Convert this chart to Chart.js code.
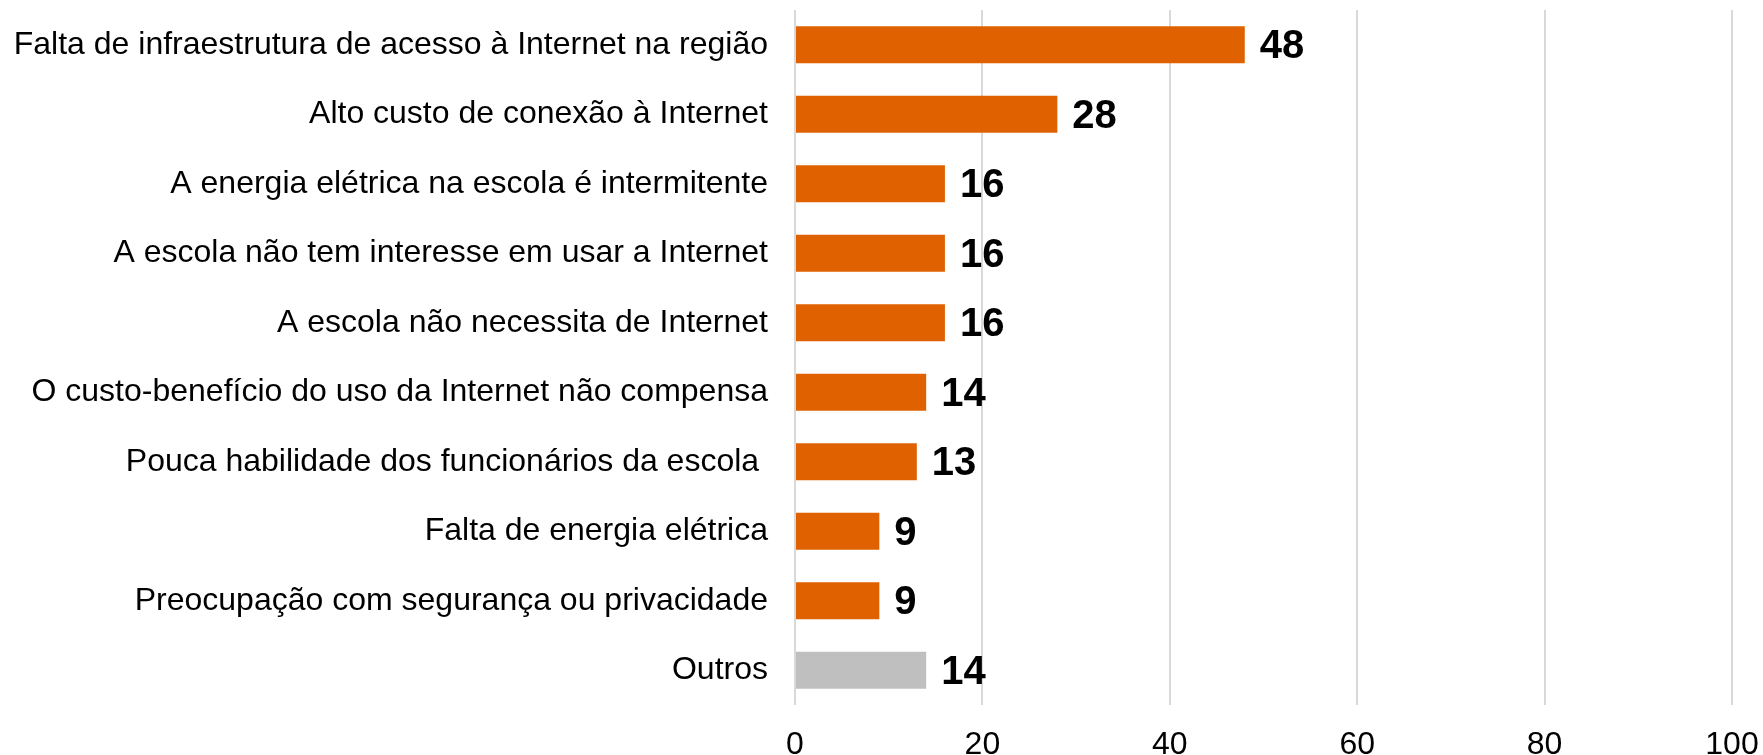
<!DOCTYPE html>
<html>
<head>
<meta charset="utf-8">
<script src="https://cdn.jsdelivr.net/npm/chart.js@4"></script>
<style>
html,body{margin:0;padding:0;background:#fff;}
canvas{display:block;}
</style>
</head>
<body>
<canvas id="c" width="1763" height="755"></canvas>
<script>
const categories = [
  "Falta de infraestrutura de acesso à Internet na região",
  "Alto custo de conexão à Internet",
  "A energia elétrica na escola é intermitente",
  "A escola não tem interesse em usar a Internet",
  "A escola não necessita de Internet",
  "O custo-benefício do uso da Internet não compensa",
  "Pouca habilidade dos funcionários da escola ",
  "Falta de energia elétrica",
  "Preocupação com segurança ou privacidade",
  "Outros"
];
const values = [48, 28, 16, 16, 16, 14, 13, 9, 9, 14];
const barColors = ["#DF6100","#DF6100","#DF6100","#DF6100","#DF6100","#DF6100","#DF6100","#DF6100","#DF6100","#BFBFBF"];
const xTicks = [0, 20, 40, 60, 80, 100];

const FONT = "'Liberation Sans', Arial, Helvetica, sans-serif";

const valueLabels = {
  id: 'valueLabels',
  afterDatasetsDraw(chart) {
    const ctx = chart.ctx;
    const meta = chart.getDatasetMeta(0);
    ctx.save();
    ctx.font = "bold 40px " + FONT;
    ctx.fillStyle = "#000";
    ctx.textAlign = "left";
    ctx.textBaseline = "alphabetic";
    meta.data.forEach((bar, i) => {
      ctx.fillText(String(values[i]), bar.x + 15, bar.y + 13.5);
    });
    ctx.restore();
  }
};

new Chart(document.getElementById('c'), {
  type: 'bar',
  data: {
    labels: categories,
    datasets: [{
      data: values,
      backgroundColor: barColors,
      borderWidth: 0,
      categoryPercentage: 1,
      barPercentage: 0.53
    }]
  },
  options: {
    indexAxis: 'y',
    responsive: false,
    animation: false,
    devicePixelRatio: 1,
    layout: { padding: { top: 10, left: 0, right: 0, bottom: 0 } },
    plugins: {
      legend: { display: false },
      tooltip: { enabled: false }
    },
    scales: {
      x: {
        min: 0,
        max: 100,
        afterBuildTicks(scale) { scale.ticks = xTicks.map(v => ({ value: v })); },
        afterFit(scale) {
          scale.height = 50;
          scale.paddingLeft = 0;
          scale.paddingRight = 31;
        },
        grid: { color: "#D9D9D9", lineWidth: 2, drawTicks: false },
        border: { display: false },
        ticks: {
          color: "#000",
          font: { family: FONT, size: 32 },
          padding: 21,
          maxRotation: 0
        }
      },
      y: {
        afterFit(scale) {
          scale.width = 795;
          scale.paddingTop = 0;
          scale.paddingBottom = 0;
        },
        grid: { display: false, drawTicks: false },
        border: { display: false },
        ticks: {
          color: "#000",
          font: { family: FONT, size: 32 },
          padding: 27,
          autoSkip: false
        }
      }
    }
  },
  plugins: [valueLabels]
});
</script>
</body>
</html>
